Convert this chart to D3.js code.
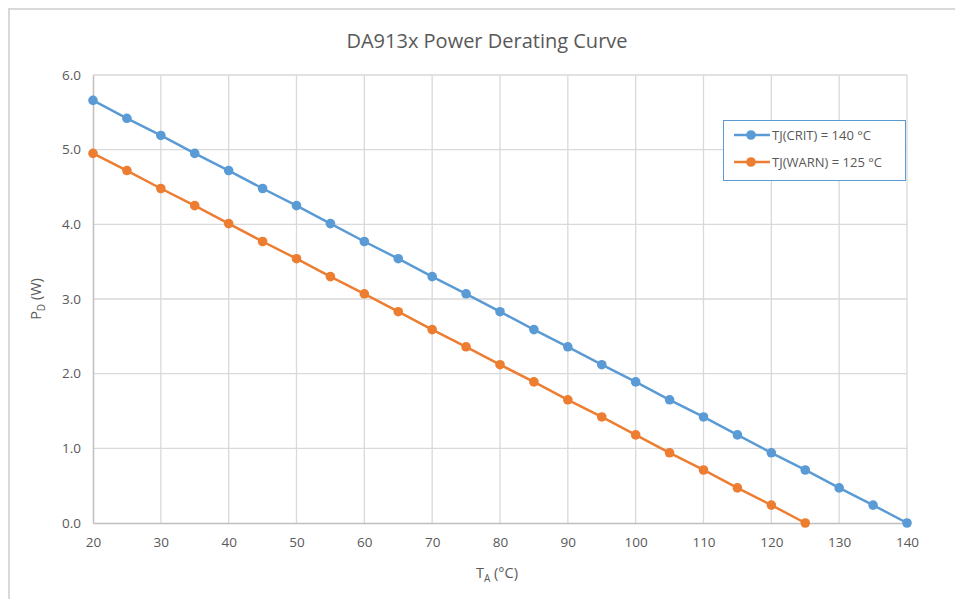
<!DOCTYPE html>
<html>
<head>
<meta charset="utf-8">
<script src="https://cdn.jsdelivr.net/npm/d3@7"></script>
<style>
  body { margin: 0; background: #fff; }
  text { font-family: "Open Sans", "Noto Sans", sans-serif; fill: #595959; }
</style>
</head>
<body>
<script>
const temps = [20, 25, 30, 35, 40, 45, 50, 55, 60, 65, 70, 75, 80, 85, 90, 95, 100, 105, 110, 115, 120, 125, 130, 135, 140];
const critPower = [5.66, 5.42, 5.19, 4.95, 4.72, 4.48, 4.25, 4.01, 3.77, 3.54, 3.30, 3.07, 2.83, 2.59, 2.36, 2.12, 1.89, 1.65, 1.42, 1.18, 0.94, 0.71, 0.47, 0.24, 0.00];
const warnPower = [4.95, 4.72, 4.48, 4.25, 4.01, 3.77, 3.54, 3.30, 3.07, 2.83, 2.59, 2.36, 2.12, 1.89, 1.65, 1.42, 1.18, 0.94, 0.71, 0.47, 0.24, 0.00];
const xTicks = [20, 30, 40, 50, 60, 70, 80, 90, 100, 110, 120, 130, 140];
const yTicks = [0, 1, 2, 3, 4, 5, 6];
const seriesNames = ["TJ(CRIT) = 140 °C", "TJ(WARN) = 125 °C"];
const seriesColors = ["#5b9bd5", "#ed7d31"];

const W = 955, H = 599;
const svg = d3.select("body").append("svg")
    .attr("width", W)
    .attr("height", H);

// outer chart frame (only top and left edges visible)
svg.append("path")
    .attr("d", "M9,599 L9,9 L955,9")
    .attr("fill", "none")
    .attr("stroke", "#d9d9d9")
    .attr("stroke-width", 2);

const x = d3.scaleLinear().domain([20, 140]).range([93, 907]);
const y = d3.scaleLinear().domain([0, 6]).range([523, 75]);

// grid
svg.append("g")
    .selectAll("line.v")
    .data(xTicks.slice(1))
    .join("line")
    .attr("x1", d => x(d)).attr("x2", d => x(d))
    .attr("y1", y(0)).attr("y2", y(6))
    .attr("stroke", "#d9d9d9")
    .attr("stroke-width", 1.3);

svg.append("g")
    .selectAll("line.h")
    .data(yTicks.slice(1))
    .join("line")
    .attr("x1", x(20)).attr("x2", x(140))
    .attr("y1", d => y(d)).attr("y2", d => y(d))
    .attr("stroke", "#d9d9d9")
    .attr("stroke-width", 1.3);

// axes
const xAxis = svg.append("g")
    .attr("transform", `translate(0,${y(0)})`)
    .call(d3.axisBottom(x).tickValues(xTicks).tickSize(0).tickPadding(14));
const yAxis = svg.append("g")
    .attr("transform", `translate(${x(20)},0)`)
    .call(d3.axisLeft(y).tickValues(yTicks).tickSize(0).tickPadding(12).tickFormat(d3.format(".1f")));

[xAxis, yAxis].forEach(a => {
    a.select(".domain").attr("stroke", "#bfbfbf").attr("stroke-width", 1.5);
    a.selectAll("text").style("font-size", "13.5px").attr("fill", "#595959");
});

// title
svg.append("text")
    .attr("x", 487).attr("y", 48)
    .attr("text-anchor", "middle")
    .style("font-size", "20px")
    .text("DA913x Power Derating Curve");

// axis labels
const xl = svg.append("text")
    .attr("x", 497).attr("y", 578)
    .attr("text-anchor", "middle")
    .style("font-size", "14.5px");
xl.append("tspan").text("T");
xl.append("tspan").attr("dy", 4).style("font-size", "10px").text("A");
xl.append("tspan").attr("dy", -4).text(" (°C)");

const yl = svg.append("text")
    .attr("transform", "translate(41,299) rotate(-90)")
    .attr("text-anchor", "middle")
    .style("font-size", "14.5px");
yl.append("tspan").text("P");
yl.append("tspan").attr("dy", 4).style("font-size", "10px").text("D");
yl.append("tspan").attr("dy", -4).text(" (W)");

// series
const series = [critPower, warnPower];
const line = d3.line().x(d => x(d[0])).y(d => y(d[1]));

series.forEach((vals, i) => {
    const pts = vals.map((v, j) => [temps[j], v]);
    svg.append("path")
        .datum(pts)
        .attr("d", line)
        .attr("fill", "none")
        .attr("stroke", seriesColors[i])
        .attr("stroke-width", 2.5);
    svg.append("g")
        .selectAll("circle")
        .data(pts)
        .join("circle")
        .attr("cx", d => x(d[0]))
        .attr("cy", d => y(d[1]))
        .attr("r", 4.8)
        .attr("fill", seriesColors[i]);
});

// legend
const lg = svg.append("g");
lg.append("rect")
    .attr("x", 723.5).attr("y", 120.5)
    .attr("width", 182).attr("height", 60)
    .attr("fill", "#fff")
    .attr("stroke", "#5b9bd5")
    .attr("stroke-width", 1);

seriesNames.forEach((name, i) => {
    const cy = 135 + i * 27;
    lg.append("line")
        .attr("x1", 734).attr("x2", 770)
        .attr("y1", cy).attr("y2", cy)
        .attr("stroke", seriesColors[i])
        .attr("stroke-width", 2.5);
    lg.append("circle")
        .attr("cx", 751).attr("cy", cy).attr("r", 4.8)
        .attr("fill", seriesColors[i]);
    lg.append("text")
        .attr("x", 772).attr("y", cy + 4.5)
        .style("font-size", "13px")
        .text(name);
});
</script>
</body>
</html>
